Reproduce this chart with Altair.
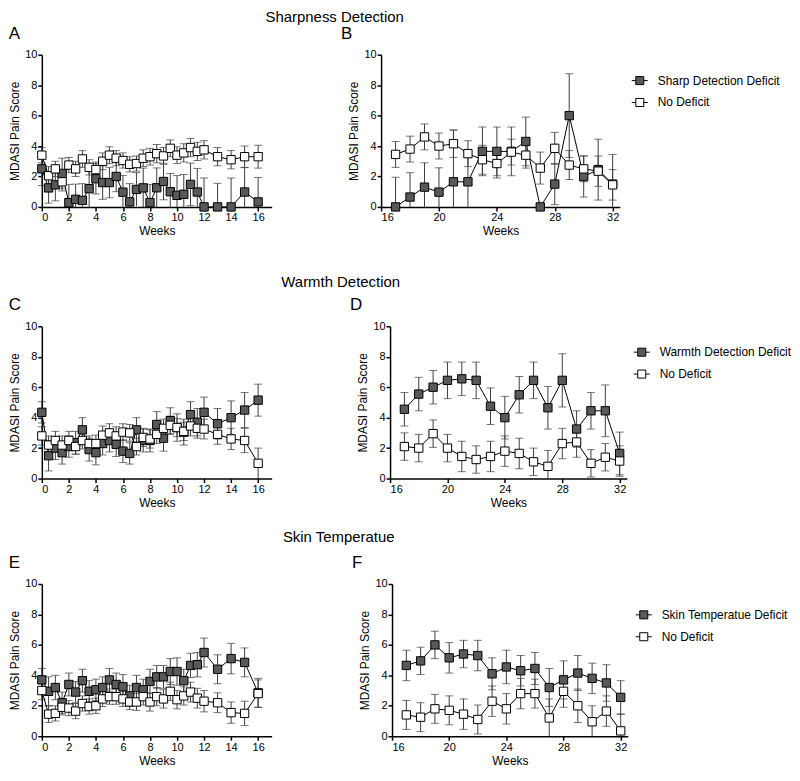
import altair as alt
import pandas as pd

FONT = "Liberation Sans"

weeks_early = [0, 0.5, 1, 1.5, 2, 2.5, 3, 3.5, 4, 4.5, 5, 5.5, 6, 6.5, 7, 7.5, 8,
               8.5, 9, 9.5, 10, 10.5, 11, 11.5, 12, 13, 14, 15, 16]
weeks_late = [17, 18, 19, 20, 21, 22, 23, 24, 25, 26, 27, 28, 29, 30, 31, 32]

# Panel A - Sharpness detection, weeks 0-16
a_def = [2.5, 1.25, 1.45, 2.2, 0.28, 0.5, 0.43, 1.2, 1.85, 1.6, 1.6, 2.0, 0.97, 0.33, 1.15,
         1.25, 0.28, 1.26, 1.67, 1.0, 0.76, 0.83, 1.48, 0.98, 0, 0, 0, 0.98, 0.33]
a_def_err = [1.1, 1.0, 1.05, 1.0, 1.2, 1.0, 1.1, 1.2, 1.0, 1.1, 1.0, 1.0, 1.1, 1.2, 1.1,
             1.3, 1.2, 1.3, 1.2, 1.2, 1.3, 1.3, 1.4, 1.55, 1.9, 1.55, 1.9, 1.6, 1.6]
a_no = [3.4, 2.05, 2.5, 1.65, 2.75, 2.5, 3.15, 2.6, 2.45, 3.0, 3.4, 3.2, 3.05, 2.8, 2.85,
        3.2, 3.3, 3.5, 3.35, 3.85, 3.4, 3.55, 3.9, 3.65, 3.75, 3.3, 3.1, 3.3, 3.3]
a_no_err = [0.5, 0.6, 0.5, 0.6, 0.5, 0.5, 0.55, 0.5, 0.5, 0.55, 0.55, 0.5, 0.5, 0.5, 0.5,
            0.55, 0.55, 0.6, 0.55, 0.55, 0.55, 0.6, 0.6, 0.6, 0.6, 0.6, 0.6, 0.7, 0.75]

# Panel B - Sharpness detection, weeks 17-32
b_def = [0, 0.65, 1.3, 0.97, 1.65, 1.65, 3.65, 3.65, 3.65, 4.3, 0, 1.5, 6.0, 2.0, 2.45, 1.5]
b_def_err = [1.95, 1.6, 1.6, 1.6, 3.4, 1.65, 1.6, 1.6, 1.6, 1.6, 0, 1.35, 2.75, 1.35, 2.0, 1.95]
b_no = [3.45, 3.8, 4.6, 4.0, 4.15, 3.5, 3.1, 2.85, 3.6, 3.4, 2.55, 3.85, 2.75, 2.5, 2.35, 1.45]
b_no_err = [0.85, 0.85, 0.85, 0.85, 0.9, 0.85, 0.95, 0.95, 0.85, 0.85, 1.05, 1.05, 0.95, 0.85, 1.0, 1.0]

# Panel C - Warmth detection, weeks 0-16
c_def = [4.35, 1.5, 2.0, 1.7, 2.1, 2.35, 3.2, 1.9, 1.7, 2.3, 2.5, 2.25, 1.8, 1.65, 3.2,
         2.5, 2.5, 3.55, 2.65, 3.8, 3.35, 3.05, 4.2, 3.7, 4.35, 3.6, 4.0, 4.5, 5.15]
c_def_err = [0.7, 1.0, 0.75, 0.75, 0.7, 0.75, 0.8, 0.75, 0.8, 0.75, 0.75, 0.8, 0.75, 0.7, 0.8,
             0.75, 0.75, 0.85, 0.85, 0.85, 0.9, 0.85, 0.85, 0.9, 1.0, 1.0, 1.1, 1.15, 1.05]
c_no = [2.8, 2.2, 2.5, 2.2, 2.5, 2.1, 2.5, 2.3, 2.3, 2.85, 3.0, 2.8, 3.05, 3.0, 2.1,
        2.7, 2.6, 2.9, 3.3, 3.5, 3.35, 3.1, 3.45, 3.3, 3.25, 2.9, 2.6, 2.5, 1.0]
c_no_err = [0.6, 0.6, 0.6, 0.6, 0.6, 0.5, 0.55, 0.5, 0.55, 0.6, 0.6, 0.6, 0.55, 0.55, 0.55,
            0.6, 0.6, 0.6, 0.6, 0.6, 0.6, 0.6, 0.65, 0.65, 0.65, 0.65, 0.7, 0.8, 1.0]

# Panel D - Warmth detection, weeks 17-32
d_def = [4.55, 5.55, 6.0, 6.45, 6.55, 6.45, 4.75, 4.0, 5.5, 6.45, 4.65, 6.45, 3.25, 4.45, 4.45, 1.65]
d_def_err = [1.1, 1.1, 1.1, 1.2, 1.1, 1.2, 1.2, 1.4, 1.2, 1.2, 1.4, 1.75, 1.2, 1.2, 1.7, 1.4]
d_no = [2.1, 2.0, 2.95, 2.0, 1.45, 1.25, 1.45, 1.8, 1.65, 1.1, 0.8, 2.3, 2.4, 1.0, 1.4, 1.15]
d_no_err = [0.9, 0.9, 0.9, 0.9, 1.0, 0.9, 1.0, 1.0, 1.0, 0.9, 1.05, 1.0, 1.0, 0.9, 0.9, 1.0]

# Panel E - Skin temperature, weeks 0-16
e_def = [3.7, 2.95, 3.2, 2.2, 3.4, 2.9, 3.65, 2.95, 3.05, 3.2, 3.7, 3.4, 3.25, 2.65, 3.2,
         3.05, 3.6, 3.9, 3.9, 4.25, 4.25, 3.65, 4.65, 4.7, 5.5, 4.4, 5.1, 4.85, 2.85]
e_def_err = [0.75, 0.95, 0.8, 0.7, 0.75, 0.7, 0.75, 0.7, 0.7, 0.7, 0.75, 0.75, 0.8, 0.7, 0.8,
             0.7, 0.8, 0.75, 0.75, 0.85, 0.9, 0.75, 0.8, 0.8, 0.95, 0.95, 1.0, 0.95, 0.95]
e_no = [3.0, 1.45, 1.5, 1.9, 1.85, 1.65, 2.15, 1.95, 2.0, 2.45, 2.6, 2.6, 2.45, 2.25, 2.25,
        2.6, 2.25, 2.6, 2.45, 2.95, 2.4, 2.65, 2.9, 2.5, 2.3, 2.2, 1.55, 1.5, 2.8]
e_no_err = [0.6, 0.55, 0.5, 0.5, 0.5, 0.5, 0.5, 0.5, 0.5, 0.5, 0.5, 0.5, 0.5, 0.5, 0.55,
            0.55, 0.6, 0.6, 0.6, 0.6, 0.6, 0.6, 0.65, 0.65, 0.7, 0.65, 0.7, 0.8, 0.9]

# Panel F - Skin temperature, weeks 17-32
f_def = [4.65, 4.95, 6.0, 5.15, 5.4, 5.3, 4.1, 4.55, 4.3, 4.45, 3.2, 3.7, 4.15, 3.8, 3.5, 2.55]
f_def_err = [1.0, 0.9, 0.9, 1.0, 0.9, 1.0, 1.05, 1.1, 1.0, 1.05, 1.25, 1.25, 1.15, 1.0, 1.2, 1.1]
f_no = [1.4, 1.25, 1.8, 1.7, 1.45, 1.1, 2.3, 1.8, 2.8, 2.8, 1.2, 2.95, 2.0, 0.95, 1.65, 0.35]
f_no_err = [0.95, 0.95, 0.95, 0.95, 1.0, 0.95, 1.0, 1.0, 1.0, 0.95, 1.25, 1.05, 1.1, 1.05, 1.0, 1.1]

early_ticks = [0, 2, 4, 6, 8, 10, 12, 14, 16]
late_ticks = [16, 20, 24, 28, 32]
y_ticks = [0, 2, 4, 6, 8, 10]


def panel(weeks, dm, de, nm, ne, label, letter, early, width, letter_dx, legend_pos=None):
    rows = []
    for w, m, e in zip(weeks, dm, de):
        rows.append({"week": w, "score": m, "err": e, "group": label})
    for w, m, e in zip(weeks, nm, ne):
        rows.append({"week": w, "score": m, "err": e, "group": "No Deficit"})
    df = pd.DataFrame(rows)
    df["lo"] = df["score"] - df["err"]
    df["hi"] = df["score"] + df["err"]

    if early:
        xdom, xvals = [0, 17], early_ticks
    else:
        xdom, xvals = [16, 32.5], late_ticks

    xs = alt.Scale(domain=xdom, nice=False, zero=False)
    ys = alt.Scale(domain=[0, 10], nice=False, clamp=True)
    xax = alt.Axis(values=xvals, title="Weeks", format="d", labelOverlap=False)
    yax = alt.Axis(values=y_ticks, title="MDASI Pain Score", labelOverlap=False)
    X = alt.X("week:Q", scale=xs, axis=xax)

    def Y(field):
        return alt.Y(field + ":Q", scale=ys, axis=yax)

    base = alt.Chart(df)
    rule = base.mark_rule(color="#3c3c3c", strokeWidth=1).encode(x=X, y=Y("lo"), y2="hi:Q")
    cap_hi = base.mark_tick(color="#3c3c3c", thickness=1, size=8, orient="horizontal").encode(
        x=X, y=Y("hi"))
    cap_lo = base.transform_filter("datum.lo >= 0.05").mark_tick(
        color="#3c3c3c", thickness=1, size=8, orient="horizontal").encode(x=X, y=Y("lo"))
    line = base.mark_line(color="black", strokeWidth=1).encode(
        x=X, y=Y("score"), detail="group:N")
    if legend_pos is None:
        leg = None
    else:
        leg = alt.Legend(
            title=None, orient="none", legendX=legend_pos[0], legendY=legend_pos[1],
            symbolType="M-1,0H-0.5M0.5,0H1M-0.5,-0.5H0.5V0.5H-0.5Z",
            symbolSize=260, symbolStrokeColor="black", symbolStrokeWidth=1,
            labelFont=FONT, labelFontSize=12, labelColor="black", rowPadding=6,
            labelOffset=9, padding=0,
        )
    pts = base.mark_square(size=70, stroke="black", strokeWidth=1, opacity=1).encode(
        x=X, y=Y("score"),
        fill=alt.Fill("group:N", scale=alt.Scale(domain=[label, "No Deficit"],
                                                  range=["#595959", "#ffffff"]),
                      legend=leg),
    )
    return alt.layer(rule, cap_hi, cap_lo, line, pts).properties(
        width=width, height=153,
        title=alt.TitleParams(letter, anchor="start", frame="bounds", dx=letter_dx,
                              fontSize=17, fontWeight="normal", font=FONT, offset=6),
    )


def row(title, left, right, spacing, dx, offset):
    return alt.hconcat(left, right, spacing=spacing).resolve_scale(
        fill="independent", x="independent", y="independent"
    ).properties(
        title=alt.TitleParams(title, anchor="middle", fontSize=15, fontWeight="normal",
                              font=FONT, dx=dx, offset=offset)
    )


row1 = row("Sharpness Detection",
           panel(weeks_early, a_def, a_def_err, a_no, a_no_err, "Sharp Detection Deficit", "A",
                 True, 231, 0),
           panel(weeks_late, b_def, b_def_err, b_no, b_no_err, "Sharp Detection Deficit", "B",
                 False, 240, -7, legend_pos=(251, 17)),
           69, -60, 0)
row2 = row("Warmth Detection",
           panel(weeks_early, c_def, c_def_err, c_no, c_no_err, "Warmth Detection Deficit", "C",
                 True, 231, 0),
           panel(weeks_late, d_def, d_def_err, d_no, d_no_err, "Warmth Detection Deficit", "D",
                 False, 238, -7, legend_pos=(244, 17)),
           78, -60, 7)
row3 = row("Skin Temperatue",
           panel(weeks_early, e_def, e_def_err, e_no, e_no_err, "Skin Temperatue Deficit", "E",
                 True, 231, 0),
           panel(weeks_late, f_def, f_def_err, f_no, f_no_err, "Skin Temperatue Deficit", "F",
                 False, 237, -7, legend_pos=(244, 22)),
           80, -60, 9)

lower = alt.vconcat(row2, row3, spacing=22).resolve_scale(
    fill="independent", x="independent", y="independent")
chart = alt.vconcat(row1, lower, spacing=38).resolve_scale(
    fill="independent", x="independent", y="independent"
).properties(padding=0, background="white").configure_axis(
    grid=False, domainColor="black", domainWidth=1.5, tickColor="black", tickWidth=1.5,
    tickSize=4, labelFont=FONT, labelFontSize=11, labelColor="black", labelPadding=1,
    titleFont=FONT, titleFontSize=12, titleFontWeight="normal", titleColor="black",
    titlePadding=3, labelOverlap=False,
).configure_view(stroke=None)

chart.save("out.html", embed_options={"renderer": "svg", "actions": False})
